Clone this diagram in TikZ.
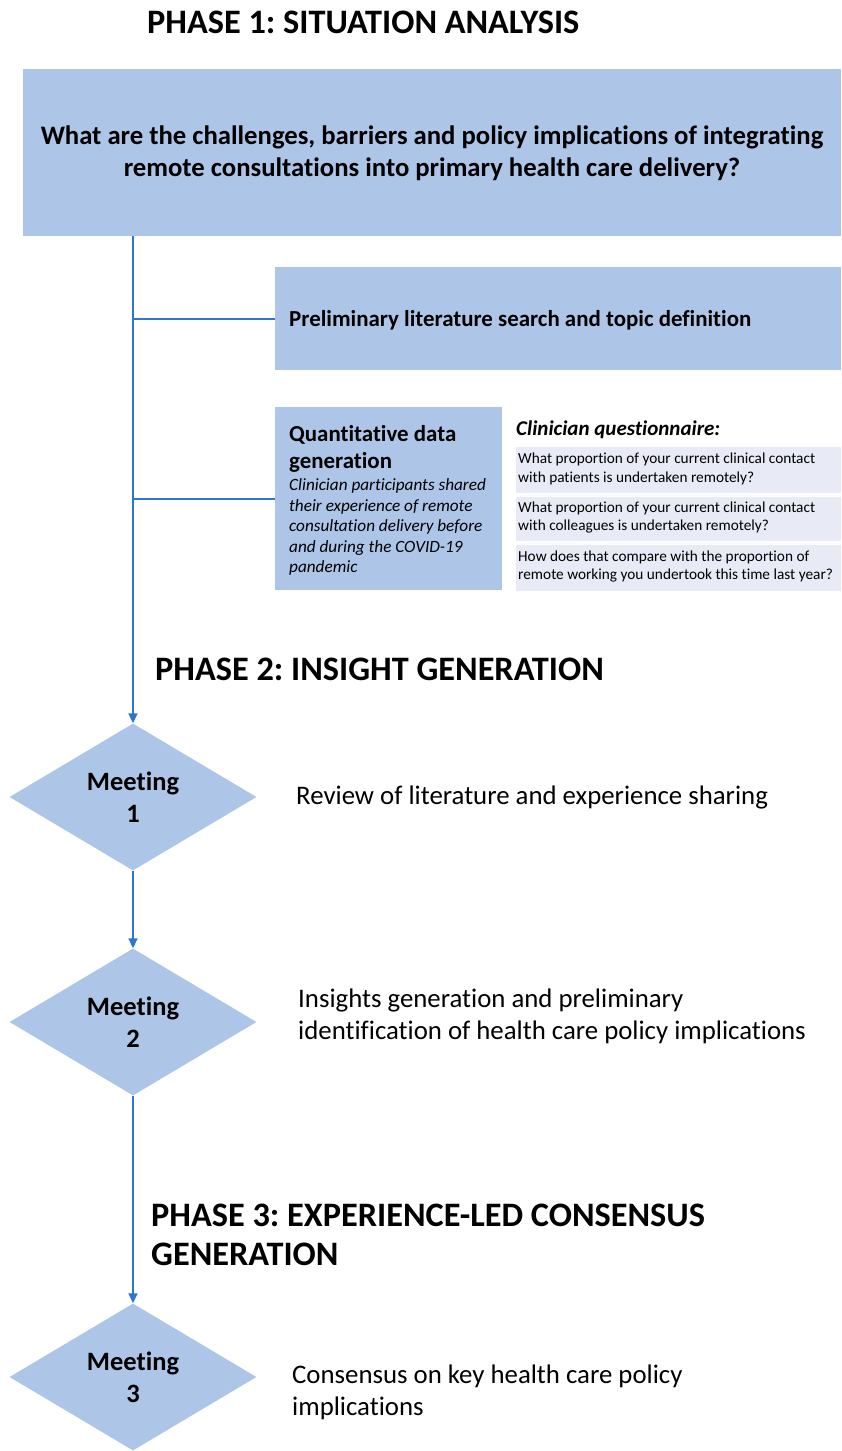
\documentclass[tikz,border=0pt]{standalone}
\usepackage{fontspec}
\setmainfont{Carlito}[Ligatures=NoCommon]
\usetikzlibrary{shapes.geometric,arrows.meta}
\definecolor{boxblue}{RGB}{173,198,231}
\definecolor{lineblue}{RGB}{46,117,206}
\definecolor{qgray}{RGB}{232,235,245}
\tikzset{
  phase/.style={anchor=west, inner sep=0pt, align=left, font=\fontsize{34.3}{39}\selectfont\bfseries},
  bluebox/.style={fill=boxblue, draw=none, inner sep=0pt},
  qbox/.style={fill=qgray, draw=none, anchor=north west, minimum width=325pt, minimum height=46pt, inner sep=0pt},
  qtext/.style={anchor=west, align=left, inner sep=0pt, font=\fontsize{15.3}{18.5}\selectfont},
  meeting/.style={shape=diamond, fill=boxblue, draw=none, minimum width=247pt, minimum height=147pt, inner sep=0pt, align=center, font=\fontsize{26.5}{32}\selectfont\bfseries},
  step text/.style={anchor=west, align=left, inner sep=0pt, font=\fontsize{26.8}{32}\selectfont},
  link/.style={draw=lineblue, line width=1.6pt},
  flow/.style={link, -{Triangle[length=10pt, width=9pt]}}
}
\frenchspacing
\begin{document}
\begin{tikzpicture}[x=1pt, y=-1pt]
\useasboundingbox (0,0) rectangle (841,1451);
% phase 1
\node[phase] (T1) at (147, 22) {PHASE 1: SITUATION ANALYSIS};
\node[bluebox, anchor=north west, minimum width=818pt, minimum height=167pt] (Q) at (23, 69) {};
\node[align=center, inner sep=0pt, font=\fontsize{26.7}{32}\selectfont\bfseries] (QT) at (432, 153)
  {What are the challenges, barriers and policy implications of integrating\\remote consultations into primary health care delivery?};
\node[bluebox, anchor=north west, minimum width=566pt, minimum height=103pt] (P) at (275, 267) {};
\node[anchor=west, inner sep=0pt, font=\fontsize{22.9}{24}\selectfont\bfseries] (PT) at (289, 320) {Preliminary literature search and topic definition};
\node[bluebox, anchor=north west, minimum width=227pt, minimum height=183pt] (D) at (275, 407) {};
\node[anchor=west, align=left, inner sep=0pt, font=\fontsize{22.9}{27}\selectfont\bfseries] (DT) at (289, 449)
  {Quantitative data\\generation};
\node[anchor=west, align=left, inner sep=0pt, font=\fontsize{17.2}{20.5}\selectfont\itshape] (DS) at (289, 527)
  {Clinician participants shared\\their experience of remote\\consultation delivery before\\and during the COVID-19\\pandemic};
\node[anchor=west, inner sep=0pt, font=\fontsize{21}{22}\selectfont\bfseries\itshape] (CQ) at (516, 430) {Clinician questionnaire:};
\node[qbox] (Q1) at (516, 447) {};
\node[qbox, minimum height=44pt] (Q2) at (516, 497) {};
\node[qbox] (Q3) at (516, 545) {};
\node[qtext] at ([xshift=2pt, yshift=1.5pt]Q1.west) {What proportion of your current clinical contact\\with patients is undertaken remotely?};
\node[qtext] at ([xshift=2pt, yshift=1.5pt]Q2.west) {What proportion of your current clinical contact\\with colleagues is undertaken remotely?};
\node[qtext] at ([xshift=2pt, yshift=1.5pt]Q3.west) {How does that compare with the proportion of\\remote working you undertook this time last year?};
% phase 2
\node[phase] (T2) at (155, 669) {PHASE 2: INSIGHT GENERATION};
\node[meeting] (M1) at (133, 797) {Meeting\\1};
\node[step text] (S1) at (296, 797) {Review of literature and experience sharing};
\node[meeting] (M2) at (133, 1022) {Meeting\\2};
\node[step text] (S2) at (298, 1016) {Insights generation and preliminary\\identification of health care policy implications};
% phase 3
\node[phase] (T3) at (151, 1235) {PHASE 3: EXPERIENCE-LED CONSENSUS\\GENERATION};
\node[meeting] (M3) at (133, 1377) {Meeting\\3};
\node[step text] (S3) at (292, 1392) {Consensus on key health care policy\\implications};
% connectors
\draw[flow] (Q.south -| M1.north) -- (M1.north);
\draw[link] (P.west) -- (P.west -| M1.north);
\draw[link] (D.west) -- (D.west -| M1.north);
\draw[flow] (M1.south) -- (M2.north);
\draw[flow] (M2.south) -- (M3.north);
\end{tikzpicture}
\end{document}
